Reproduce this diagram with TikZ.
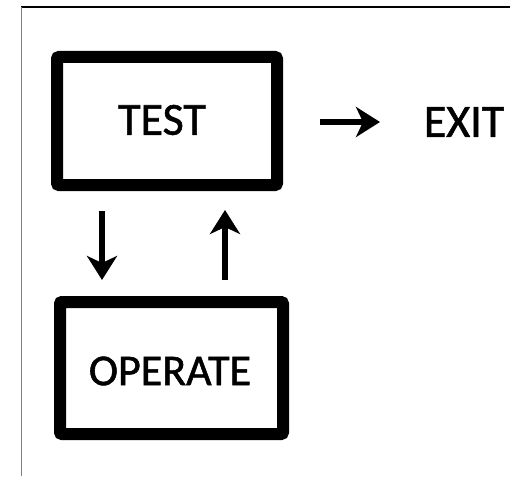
\documentclass[tikz,border=0pt]{standalone}
\usepackage{fontspec}
\setmainfont{Carlito}
\newfontfamily\heavyfont[FakeBold=1.2]{Carlito}
\usetikzlibrary{arrows.meta}
\begin{document}
\begin{tikzpicture}[x=1pt,y=-1pt,
  box/.style={draw=black,line width=12pt,rounded corners=2pt,fill=white,inner sep=0pt},
  lbl/.style={font=\heavyfont\fontsize{46}{50}\selectfont,inner sep=0pt},
  arr/.style={line width=6pt,-{Stealth[length=24pt,width=30pt,inset=7pt]}}]
\useasboundingbox (0,0) rectangle (510,476);
\fill[white] (0,0) rectangle (510,476);
\draw[line width=2pt,black] (21,7) -- (510,7);
\draw[line width=1pt,gray] (21,7) -- (21,476);
\node[box,minimum width=220pt,minimum height=128pt] (test) at (167,121) {};
\node[lbl] (testl) at (162,120) {TEST};
\node[box,minimum width=223pt,minimum height=132pt] (op) at (171.5,368) {};
\node[lbl,font=\heavyfont\fontsize{44}{48}\selectfont] (opl) at (170,371) {OPERATE};
\node[lbl] (exit) at (464,122) {EXIT};
\coordinate (d1) at (102,211);
\coordinate (d2) at (102,280);
\coordinate (u1) at (225,280);
\coordinate (u2) at (225,210);
\coordinate (r1) at (320,122);
\coordinate (r2) at (380,122);
\draw[arr] (d1) -- (d2);
\draw[arr] (u1) -- (u2);
\draw[arr] (r1) -- (r2);
\end{tikzpicture}
\end{document}
